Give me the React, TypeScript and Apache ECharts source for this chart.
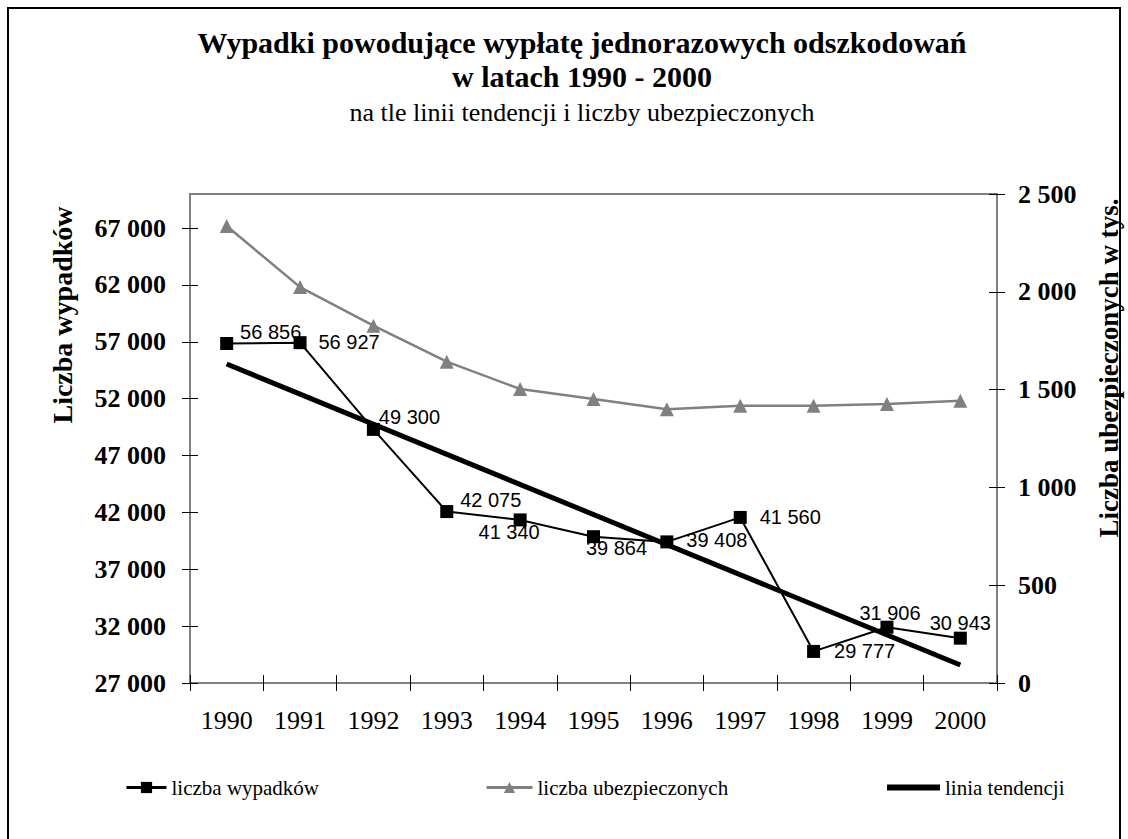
import React, { useEffect, useRef } from "react";
import * as echarts from "echarts";

const categories = ["1990", "1991", "1992", "1993", "1994", "1995", "1996", "1997", "1998", "1999", "2000"];
const accidents = [56856, 56927, 49300, 42075, 41340, 39864, 39408, 41560, 29777, 31906, 30943];
const insured = [2336, 2024, 1827, 1643, 1503, 1452, 1399, 1418, 1418, 1426, 1443];
const trendYears = ["1990", "2000"];
const trendValues = [55050, 28580];
const leftTicks = [27000, 32000, 37000, 42000, 47000, 52000, 57000, 62000, 67000];
const leftMin = 27000;
const leftMax = 70000;
const rightMin = 0;
const rightMax = 2500;
const rightInterval = 500;

// label offsets (px) relative to each marker centre
const labelOffsets: [number, number][] = [
  [44, -11], [49, -1], [36, -12], [44, -12], [-11, 12], [23, 11],
  [50, -2], [50, 0], [51, 0], [3, -14], [0, -15],
];

const SERIF = "'Liberation Serif', 'Times New Roman', serif";
const SANS = "'Liberation Sans', Arial, sans-serif";
const GRAY = "#808080";

const fmt = (v: number) => String(Math.round(v)).replace(/\B(?=(\d{3})+(?!\d))/g, " ");

export default function App() {
  const ref = useRef<HTMLDivElement>(null);
  useEffect(() => {
    if (!ref.current) return;
    const chart = echarts.init(ref.current, null, { renderer: "svg" });
    const legendBase = {
      orient: "horizontal",
      top: 772,
      itemHeight: 14,
      textStyle: { fontFamily: SERIF, fontSize: 21, color: "#000" },
      selectedMode: false,
    };
    chart.setOption({
      animation: false,
      backgroundColor: "#fff",
      grid: {
        left: 190,
        right: 131,
        top: 194,
        bottom: 156,
        show: true,
        borderColor: GRAY,
        borderWidth: 2,
        backgroundColor: "transparent",
      },
      graphic: [
        {
          type: "rect",
          shape: { x: 8, y: 8, width: 1112, height: 840 },
          style: { fill: "none", stroke: "#000", lineWidth: 2 },
          silent: true,
        },
        {
          type: "text",
          x: 582,
          y: 42,
          style: { text: "Wypadki powodujące wypłatę jednorazowych odszkodowań", fontFamily: SERIF, fontSize: 30, fontWeight: "bold", fill: "#000", align: "center", verticalAlign: "middle" },
        },
        {
          type: "text",
          x: 582,
          y: 76,
          style: { text: "w latach 1990 - 2000", fontFamily: SERIF, fontSize: 30, fontWeight: "bold", fill: "#000", align: "center", verticalAlign: "middle" },
        },
        {
          type: "text",
          x: 582,
          y: 112,
          style: { text: "na tle linii tendencji i liczby ubezpieczonych", fontFamily: SERIF, fontSize: 26, fill: "#000", align: "center", verticalAlign: "middle" },
        },
        {
          type: "text",
          x: 62,
          y: 315,
          rotation: Math.PI / 2,
          style: { text: "Liczba wypadków", fontFamily: SERIF, fontSize: 28, fontWeight: "bold", fill: "#000", align: "center", verticalAlign: "middle" },
        },
        {
          type: "text",
          x: 1109,
          y: 368,
          rotation: Math.PI / 2,
          style: { text: "Liczba ubezpieczonych w tys.", fontFamily: SERIF, fontSize: 27, fontWeight: "bold", fill: "#000", align: "center", verticalAlign: "middle" },
        },
      ],
      legend: [
        { ...legendBase, left: 120, itemWidth: 40, data: ["liczba wypadków"], lineStyle: { width: 3 } },
        { ...legendBase, left: 480, itemWidth: 46, data: ["liczba ubezpieczonych"], lineStyle: { width: 3 } },
        { ...legendBase, left: 882, itemWidth: 53, itemHeight: 6, data: [{ name: "linia tendencji", icon: "rect" }], itemStyle: { color: "#000" } },
      ],
      xAxis: [
        {
          type: "category",
          data: categories,
          boundaryGap: true,
          position: "bottom",
          axisLine: { show: true, onZero: false, lineStyle: { color: GRAY, width: 2 } },
          axisTick: { show: true, inside: false, length: 8, lineStyle: { color: "#000", width: 1 } },
          axisLabel: { fontFamily: SERIF, fontSize: 26, color: "#000", margin: 24 },
          splitLine: { show: false },
        },
        {
          type: "category",
          data: categories,
          boundaryGap: true,
          position: "bottom",
          axisLine: { show: false },
          axisTick: { show: true, inside: true, length: 8, lineStyle: { color: "#000", width: 1 } },
          axisLabel: { show: false },
          splitLine: { show: false },
        },
      ],
      yAxis: [
        {
          type: "value",
          position: "left",
          min: leftMin,
          max: leftMax,
          axisLine: { show: true, lineStyle: { color: GRAY, width: 2 } },
          axisTick: { show: true, inside: false, length: 8, customValues: leftTicks, lineStyle: { color: "#000", width: 1 } },
          axisLabel: { customValues: leftTicks, formatter: (v: number) => fmt(v), fontFamily: SERIF, fontSize: 26, fontWeight: "bold", color: "#000", margin: 24 },
          splitLine: { show: false },
        },
        {
          type: "value",
          position: "right",
          min: rightMin,
          max: rightMax,
          interval: rightInterval,
          axisLine: { show: true, lineStyle: { color: GRAY, width: 2 } },
          axisTick: { show: true, inside: false, length: 8, lineStyle: { color: "#000", width: 1 } },
          axisLabel: { formatter: (v: number) => fmt(v), fontFamily: SERIF, fontSize: 26, fontWeight: "bold", color: "#000", margin: 21 },
          splitLine: { show: false },
        },
        {
          type: "value",
          position: "left",
          offset: 0,
          min: leftMin,
          max: leftMax,
          axisLine: { show: false },
          axisTick: { show: true, inside: true, length: 8, customValues: leftTicks, lineStyle: { color: "#000", width: 1 } },
          axisLabel: { show: false },
          splitLine: { show: false },
        },
        {
          type: "value",
          position: "right",
          offset: 0,
          min: rightMin,
          max: rightMax,
          interval: rightInterval,
          axisLine: { show: false },
          axisTick: { show: true, inside: true, length: 8, lineStyle: { color: "#000", width: 1 } },
          axisLabel: { show: false },
          splitLine: { show: false },
        },
      ],
      series: [
        {
          name: "liczba ubezpieczonych",
          type: "line",
          yAxisIndex: 1,
          data: insured,
          symbol: "triangle",
          symbolSize: 14,
          itemStyle: { color: GRAY },
          lineStyle: { color: GRAY, width: 2.5 },
          z: 2,
        },
        {
          name: "linia tendencji",
          type: "line",
          yAxisIndex: 0,
          data: trendYears.map((y, i) => [categories.indexOf(y), trendValues[i]]),
          symbol: "none",
          itemStyle: { color: "#000" },
          lineStyle: { color: "#000", width: 5 },
          z: 3,
        },
        {
          name: "liczba wypadków",
          type: "line",
          yAxisIndex: 0,
          data: accidents.map((v, i) => ({ value: v, label: { offset: labelOffsets[i] } })),
          symbol: "rect",
          symbolSize: 13,
          itemStyle: { color: "#000" },
          lineStyle: { color: "#000", width: 2 },
          label: {
            show: true,
            position: "inside",
            align: "center",
            verticalAlign: "middle",
            formatter: (p: any) => fmt(p.value),
            fontFamily: SANS,
            fontSize: 20,
            color: "#000",
          },
          z: 4,
        },
      ],
    });
    return () => chart.dispose();
  }, []);
  return (
    <div
      ref={ref}
      style={{ position: "fixed", left: 0, top: 0, width: 1128, height: 839 }}
    />
  );
}
